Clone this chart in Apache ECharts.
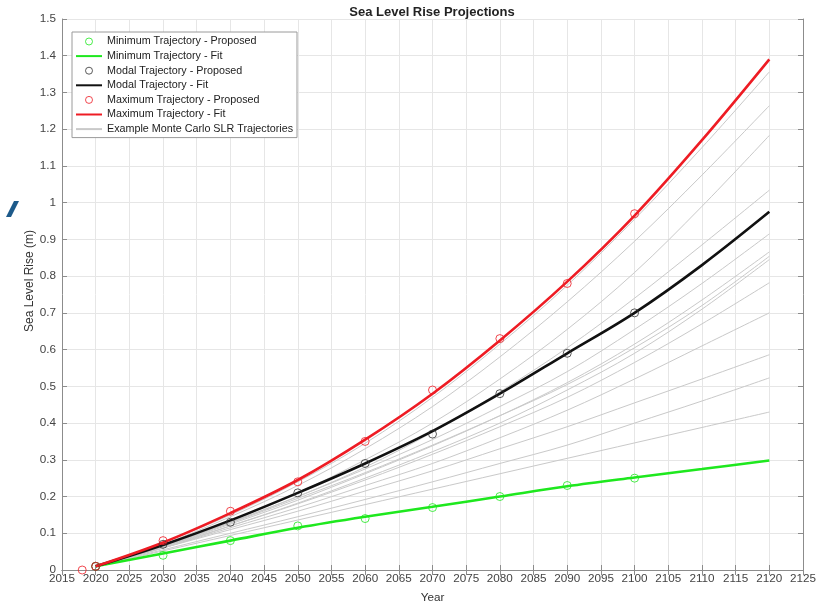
<!DOCTYPE html>
<html>
<head>
<meta charset="utf-8">
<script src="https://cdn.jsdelivr.net/npm/echarts@6/dist/echarts.min.js"></script>
<style>html,body{margin:0;padding:0;background:#fff;}#c{width:817px;height:605px;}</style>
</head>
<body>
<div id="c"></div>
<script>
// ---- data ----
const fitYears = [2020, 2030, 2040, 2050, 2060, 2070, 2080, 2090, 2100, 2110, 2120];
const propYears = [2020, 2030, 2040, 2050, 2060, 2070, 2080, 2090, 2100];
const maxPropYears = [2018, 2020, 2030, 2040, 2050, 2060, 2070, 2080, 2090, 2100];

const minProposed = [0.01, 0.04, 0.08, 0.12, 0.14, 0.17, 0.20, 0.23, 0.25];
const modalProposed = [0.01, 0.07, 0.13, 0.21, 0.29, 0.37, 0.48, 0.59, 0.70];
const maxProposed = [0.0, 0.01, 0.08, 0.16, 0.24, 0.35, 0.49, 0.63, 0.78, 0.97];

const minFit = [0.01, 0.045, 0.08, 0.115, 0.145, 0.172, 0.20, 0.228, 0.252, 0.275, 0.298];
const modalFit = [0.01, 0.068, 0.135, 0.21, 0.29, 0.378, 0.48, 0.59, 0.70, 0.83, 0.975];
const maxFit = [0.01, 0.075, 0.155, 0.245, 0.355, 0.48, 0.625, 0.785, 0.965, 1.17, 1.39];

const mc1 = [0.01, 0.075, 0.15, 0.24, 0.345, 0.47, 0.615, 0.775, 0.955, 1.15, 1.356];
const mc2 = [0.01, 0.07, 0.145, 0.23, 0.33, 0.445, 0.58, 0.73, 0.895, 1.075, 1.264];
const mc3 = [0.01, 0.068, 0.135, 0.21, 0.30, 0.40, 0.52, 0.655, 0.81, 0.99, 1.183];
const mc4 = [0.01, 0.065, 0.13, 0.20, 0.28, 0.375, 0.485, 0.605, 0.74, 0.885, 1.034];
const mc5 = [0.01, 0.065, 0.13, 0.20, 0.275, 0.355, 0.445, 0.54, 0.655, 0.78, 0.915];
const mc6 = [0.01, 0.063, 0.125, 0.19, 0.262, 0.338, 0.42, 0.51, 0.615, 0.735, 0.866];
const mc7 = [0.01, 0.065, 0.128, 0.195, 0.265, 0.34, 0.42, 0.505, 0.605, 0.72, 0.854];
const mc8 = [0.01, 0.06, 0.12, 0.182, 0.25, 0.322, 0.40, 0.49, 0.59, 0.71, 0.845];
const mc9 = [0.01, 0.063, 0.12, 0.18, 0.245, 0.315, 0.39, 0.47, 0.565, 0.67, 0.782];
const mc10 = [0.01, 0.06, 0.115, 0.17, 0.23, 0.29, 0.36, 0.435, 0.52, 0.61, 0.70];
const mc11 = [0.01, 0.06, 0.11, 0.16, 0.215, 0.27, 0.33, 0.39, 0.455, 0.52, 0.586];
const mc12 = [0.01, 0.055, 0.10, 0.145, 0.192, 0.24, 0.29, 0.34, 0.40, 0.46, 0.523];
const mc13 = [0.01, 0.052, 0.094, 0.136, 0.178, 0.22, 0.262, 0.304, 0.346, 0.388, 0.43];
const mcAll = [mc1, mc2, mc3, mc4, mc5, mc6, mc7, mc8, mc9, mc10, mc11, mc12, mc13];

const names = {
  minP: 'Minimum Trajectory - Proposed', minF: 'Minimum Trajectory - Fit',
  modP: 'Modal Trajectory - Proposed', modF: 'Modal Trajectory - Fit',
  maxP: 'Maximum Trajectory - Proposed', maxF: 'Maximum Trajectory - Fit',
  mc: 'Example Monte Carlo SLR Trajectories'
};
const titleText = 'Sea Level Rise Projections';
const xName = 'Year';
const yName = 'Sea Level Rise (m)';

// ---- chart ----
const pairs = (xs, ys) => xs.map((x, i) => [x, ys[i]]);
const FONT = 'Liberation Sans, Arial, sans-serif';
const GREEN = '#1ee81e', BLACK = '#111111', RED = '#ee1c24', GRAY = '#c9c9c9';
const SMOOTH = 0.35;

const fitSeries = (name, ys, color) => ({
  type: 'line', name, data: pairs(fitYears, ys), smooth: SMOOTH,
  showSymbol: false, symbol: 'none', z: 5,
  lineStyle: { color, width: 2.6 }, itemStyle: { color }
});
const propSeries = (name, xs, ys, color) => ({
  type: 'scatter', name, data: pairs(xs, ys), symbol: 'circle', symbolSize: 8, z: 6,
  itemStyle: { color: 'rgba(255,255,255,0)', borderColor: color, borderWidth: 1 }
});

const series = [];
mcAll.forEach(ys => series.push({
  type: 'line', name: names.mc, data: pairs(fitYears, ys), smooth: SMOOTH,
  showSymbol: false, symbol: 'none', z: 3,
  lineStyle: { color: GRAY, width: 1 }, itemStyle: { color: GRAY }
}));
series.push(fitSeries(names.minF, minFit, GREEN));
series.push(fitSeries(names.modF, modalFit, BLACK));
series.push(fitSeries(names.maxF, maxFit, RED));
series.push(propSeries(names.minP, propYears, minProposed, GREEN));
series.push(propSeries(names.modP, propYears, modalProposed, '#333333'));
series.push(propSeries(names.maxP, maxPropYears, maxProposed, RED));

const axisLineColor = '#8c8c8c';
const tickStyle = { show: true, inside: true, length: 5, lineStyle: { color: axisLineColor } };
const hideSym = { color: 'rgba(0,0,0,0)', borderColor: 'rgba(0,0,0,0)', borderWidth: 0 };
const circleItem = (name, color) => ({ name, icon: 'circle', itemStyle: { color: 'rgba(0,0,0,0)', borderColor: color, borderWidth: 1 } });
const TICK_FONT = 11.7;

const chart = echarts.init(document.getElementById('c'), null, { renderer: 'canvas' });
chart.setOption({
  animation: false,
  backgroundColor: '#ffffff',
  textStyle: { fontFamily: FONT },
  grid: { left: 62, right: 14, top: 19, bottom: 35, containLabel: false, outerBoundsMode: 'none' },
  graphic: [
    { type: 'text', x: 432, y: 6, style: { text: titleText, font: 'bold 13px ' + FONT, fill: '#222', textAlign: 'center', textVerticalAlign: 'top' } },
    { type: 'text', x: 30, y: 281, rotation: Math.PI / 2, style: { text: yName, font: '12px ' + FONT, fill: '#333', textAlign: 'center', textVerticalAlign: 'middle' } },
    { type: 'polygon', shape: { points: [[6, 217], [11, 217], [19, 201], [14, 201]] }, style: { fill: '#1d5a8a' } }
  ],
  legend: {
    orient: 'vertical', left: 72, top: 32,
    padding: [4, 4, 3, 3], itemGap: 3.6, itemWidth: 26, itemHeight: 7,
    backgroundColor: '#ffffff', borderColor: '#9a9a9a', borderWidth: 1,
    textStyle: { fontSize: 10.75, color: '#222', fontFamily: FONT },
    data: [
      circleItem(names.minP, GREEN), { name: names.minF, itemStyle: hideSym },
      circleItem(names.modP, '#333333'), { name: names.modF, itemStyle: hideSym },
      circleItem(names.maxP, RED), { name: names.maxF, itemStyle: hideSym },
      { name: names.mc, itemStyle: hideSym }
    ]
  },
  xAxis: [
    {
      type: 'value', min: 2015, max: 2125, interval: 5, position: 'bottom',
      name: xName, nameLocation: 'middle', nameGap: 22, nameMoveOverlap: false,
      nameTextStyle: { fontSize: TICK_FONT, color: '#333' },
      axisLine: { show: true, lineStyle: { color: axisLineColor } },
      axisTick: tickStyle,
      axisLabel: { fontSize: TICK_FONT, color: '#444', margin: 3, formatter: v => String(v) },
      splitLine: { show: true, lineStyle: { color: '#e6e6e6', width: 1 } }
    },
    {
      type: 'value', min: 2015, max: 2125, interval: 5, position: 'top',
      axisLine: { show: true, lineStyle: { color: axisLineColor } },
      axisTick: tickStyle, axisLabel: { show: false }, splitLine: { show: false }
    }
  ],
  yAxis: [
    {
      type: 'value', min: 0, max: 1.5, interval: 0.1, position: 'left',
      axisLine: { show: true, lineStyle: { color: axisLineColor } },
      axisTick: tickStyle,
      axisLabel: { fontSize: TICK_FONT, color: '#444', margin: 6, formatter: v => String(Math.round(v * 10) / 10) },
      splitLine: { show: true, lineStyle: { color: '#e6e6e6', width: 1 } }
    },
    {
      type: 'value', min: 0, max: 1.5, interval: 0.1, position: 'right',
      axisLine: { show: true, lineStyle: { color: axisLineColor } },
      axisTick: tickStyle, axisLabel: { show: false }, splitLine: { show: false }
    }
  ],
  series
});
</script>
</body>
</html>
